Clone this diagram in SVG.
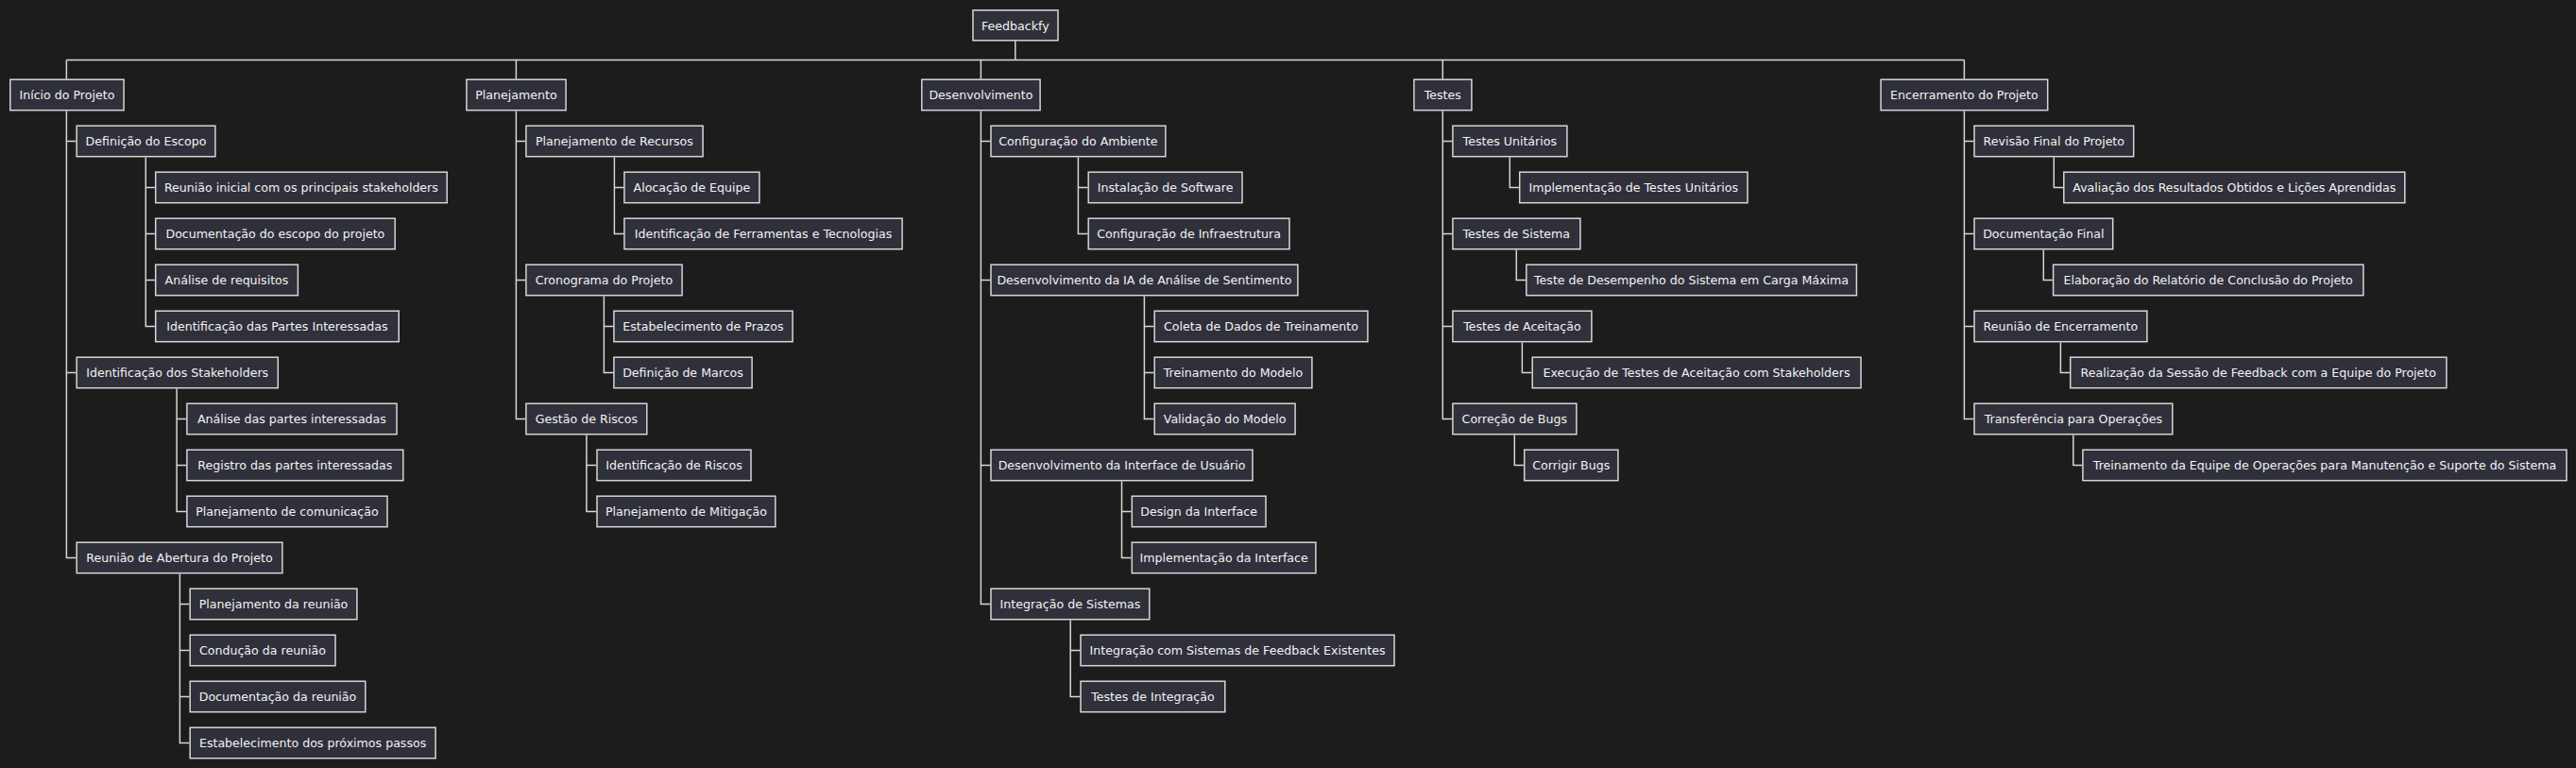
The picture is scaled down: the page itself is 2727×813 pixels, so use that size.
<svg xmlns="http://www.w3.org/2000/svg" width="2727" height="813" viewBox="0 0 2727 813">
<style>
.bg{fill:#1c1c1c}
.n rect{fill:#30303a;stroke:#d6d6d6;stroke-width:1.5}
.n text{fill:#f2f2f2;font-family:"DejaVu Sans","Liberation Sans",sans-serif;font-size:12.6px;text-anchor:middle}
.c path{fill:none;stroke:#d6d6d6;stroke-width:1.5}
</style>
<rect class="bg" x="0" y="0" width="2727" height="813"/>
<g class="c" id="connectors">
<path d="M1074.8,43.3V63.5M70.4,63.5H2079.4M70.4,63.5V83.5M546.4,63.5V83.5M1038.4,63.5V83.5M1527.3,63.5V83.5M2079.4,63.5V83.5"/>
<path d="M70.4,117.5V590.5H80.4M70.4,149.5H80.4M70.4,394.5H80.4"/>
<path d="M154.3,166.5V345.5H163.9M154.3,198.5H163.9M154.3,247.5H163.9M154.3,296.5H163.9"/>
<path d="M187.1,411.5V541.5H197.1M187.1,443.5H197.1M187.1,492.5H197.1"/>
<path d="M190.4,607.5V786.5H200.4M190.4,639.5H200.4M190.4,688.5H200.4M190.4,737.5H200.4"/>
<path d="M546.4,117.5V443.5H556.1M546.4,149.5H556.1M546.4,296.5H556.1"/>
<path d="M650.4,166.5V247.5H660.1M650.4,198.5H660.1"/>
<path d="M639.4,313.5V394.5H649.1M639.4,345.5H649.1"/>
<path d="M620.9,460.5V541.5H631.2M620.9,492.5H631.2"/>
<path d="M1038.4,117.5V639.5H1048.2M1038.4,149.5H1048.2M1038.4,296.5H1048.2M1038.4,492.5H1048.2"/>
<path d="M1141.4,166.5V247.5H1151.4M1141.4,198.5H1151.4"/>
<path d="M1211.4,313.5V443.5H1221.4M1211.4,345.5H1221.4M1211.4,394.5H1221.4"/>
<path d="M1187.5,509.5V590.5H1197.5M1187.5,541.5H1197.5"/>
<path d="M1133.2,656.5V737.5H1143.2M1133.2,688.5H1143.2"/>
<path d="M1527.3,117.5V443.5H1537.1M1527.3,149.5H1537.1M1527.3,247.5H1537.1M1527.3,345.5H1537.1"/>
<path d="M1598.3,166.5V198.5H1607.9"/>
<path d="M1605.3,264.5V296.5H1615"/>
<path d="M1611.4,362.5V394.5H1621.4"/>
<path d="M1603.3,460.5V492.5H1612.9"/>
<path d="M2079.4,117.5V443.5H2089.2M2079.4,149.5H2089.2M2079.4,247.5H2089.2M2079.4,345.5H2089.2"/>
<path d="M2174.3,166.5V198.5H2184"/>
<path d="M2163.3,264.5V296.5H2172.8"/>
<path d="M2181.4,362.5V394.5H2190.9"/>
<path d="M2194.8,460.5V492.5H2204.1"/>
</g>
<g class="n" id="n-root"><rect x="1030" y="10.8" width="90" height="32"/><text x="1074.8" y="31.5">Feedbackfy</text></g>

<g class="n" id="n-inicio"><rect x="10.8" y="84.2" width="120.3" height="32.5"/><text x="70.9" y="105">Início do Projeto</text></g>
<g class="n" id="n-definicao"><rect x="81.2" y="133.2" width="146.7" height="32.5"/><text x="154.5" y="154">Definição do Escopo</text></g>
<g class="n" id="n-reuniao-inicial"><rect x="164.7" y="182.2" width="308.5" height="32.5"/><text x="318.9" y="203">Reunião inicial com os principais stakeholders</text></g>
<g class="n" id="n-doc-escopo"><rect x="164.7" y="231.2" width="253.5" height="32.5"/><text x="291.4" y="252">Documentação do escopo do projeto</text></g>
<g class="n" id="n-analise-req"><rect x="164.7" y="280.2" width="150.7" height="32.5"/><text x="240" y="301">Análise de requisitos</text></g>
<g class="n" id="n-ident-partes"><rect x="164.7" y="329.2" width="257.5" height="32.5"/><text x="293.4" y="350">Identificação das Partes Interessadas</text></g>
<g class="n" id="n-ident-stake"><rect x="81.2" y="378.2" width="213.1" height="32.5"/><text x="187.7" y="399">Identificação dos Stakeholders</text></g>
<g class="n" id="n-analise-partes"><rect x="197.9" y="427.2" width="222.1" height="32.5"/><text x="308.9" y="448">Análise das partes interessadas</text></g>
<g class="n" id="n-registro"><rect x="197.9" y="476.2" width="228.9" height="32.5"/><text x="312.3" y="497">Registro das partes interessadas</text></g>
<g class="n" id="n-plan-com"><rect x="197.9" y="525.2" width="212.1" height="32.5"/><text x="303.9" y="546">Planejamento de comunicação</text></g>
<g class="n" id="n-reuniao-abertura"><rect x="81.2" y="574.2" width="217.7" height="32.5"/><text x="190" y="595">Reunião de Abertura do Projeto</text></g>
<g class="n" id="n-plan-reuniao"><rect x="201.2" y="623.2" width="176.7" height="32.5"/><text x="289.5" y="644">Planejamento da reunião</text></g>
<g class="n" id="n-conducao"><rect x="201.2" y="672.2" width="153.8" height="32.5"/><text x="278" y="693">Condução da reunião</text></g>
<g class="n" id="n-doc-reuniao"><rect x="201.2" y="721.2" width="185.6" height="32.5"/><text x="294" y="742">Documentação da reunião</text></g>
<g class="n" id="n-estab-passos"><rect x="201.2" y="770.2" width="259.9" height="32.5"/><text x="331.1" y="791">Estabelecimento dos próximos passos</text></g>

<g class="n" id="n-planejamento"><rect x="493.9" y="84.2" width="105.2" height="32.5"/><text x="546.4" y="105">Planejamento</text></g>
<g class="n" id="n-plan-recursos"><rect x="556.9" y="133.2" width="187.2" height="32.5"/><text x="650.4" y="154">Planejamento de Recursos</text></g>
<g class="n" id="n-alocacao"><rect x="660.9" y="182.2" width="143" height="32.5"/><text x="732.4" y="203">Alocação de Equipe</text></g>
<g class="n" id="n-ferramentas"><rect x="660.9" y="231.2" width="294.2" height="32.5"/><text x="808" y="252">Identificação de Ferramentas e Tecnologias</text></g>
<g class="n" id="n-cronograma"><rect x="556.9" y="280.2" width="165.2" height="32.5"/><text x="639.4" y="301">Cronograma do Projeto</text></g>
<g class="n" id="n-prazos"><rect x="649.9" y="329.2" width="189.2" height="32.5"/><text x="744.4" y="350">Estabelecimento de Prazos</text></g>
<g class="n" id="n-marcos"><rect x="649.9" y="378.2" width="146.2" height="32.5"/><text x="723" y="399">Definição de Marcos</text></g>
<g class="n" id="n-gestao-riscos"><rect x="556.9" y="427.2" width="127.9" height="32.5"/><text x="620.9" y="448">Gestão de Riscos</text></g>
<g class="n" id="n-ident-riscos"><rect x="632" y="476.2" width="163" height="32.5"/><text x="713.5" y="497">Identificação de Riscos</text></g>
<g class="n" id="n-mitigacao"><rect x="632" y="525.2" width="188.8" height="32.5"/><text x="726.4" y="546">Planejamento de Mitigação</text></g>

<g class="n" id="n-desenvolvimento"><rect x="975.8" y="84.2" width="125.3" height="32.5"/><text x="1038.4" y="105">Desenvolvimento</text></g>
<g class="n" id="n-config-amb"><rect x="1049" y="133.2" width="184.9" height="32.5"/><text x="1141.4" y="154">Configuração do Ambiente</text></g>
<g class="n" id="n-instalacao"><rect x="1152.2" y="182.2" width="162.8" height="32.5"/><text x="1233.6" y="203">Instalação de Software</text></g>
<g class="n" id="n-config-infra"><rect x="1152.2" y="231.2" width="212.8" height="32.5"/><text x="1258.6" y="252">Configuração de Infraestrutura</text></g>
<g class="n" id="n-desenv-ia"><rect x="1049" y="280.2" width="324.9" height="32.5"/><text x="1211.4" y="301">Desenvolvimento da IA de Análise de Sentimento</text></g>
<g class="n" id="n-coleta"><rect x="1222.2" y="329.2" width="225.7" height="32.5"/><text x="1335" y="350">Coleta de Dados de Treinamento</text></g>
<g class="n" id="n-treinamento-modelo"><rect x="1222.2" y="378.2" width="166.7" height="32.5"/><text x="1305.5" y="399">Treinamento do Modelo</text></g>
<g class="n" id="n-validacao"><rect x="1222.2" y="427.2" width="148.9" height="32.5"/><text x="1296.6" y="448">Validação do Modelo</text></g>
<g class="n" id="n-desenv-interface"><rect x="1049" y="476.2" width="277" height="32.5"/><text x="1187.5" y="497">Desenvolvimento da Interface de Usuário</text></g>
<g class="n" id="n-design"><rect x="1198.3" y="525.2" width="141.7" height="32.5"/><text x="1269.1" y="546">Design da Interface</text></g>
<g class="n" id="n-impl-interface"><rect x="1198.3" y="574.2" width="194.6" height="32.5"/><text x="1295.6" y="595">Implementação da Interface</text></g>
<g class="n" id="n-integracao"><rect x="1049" y="623.2" width="167.8" height="32.5"/><text x="1132.9" y="644">Integração de Sistemas</text></g>
<g class="n" id="n-integracao-com"><rect x="1144" y="672.2" width="332" height="32.5"/><text x="1310" y="693">Integração com Sistemas de Feedback Existentes</text></g>
<g class="n" id="n-testes-integracao"><rect x="1144" y="721.2" width="152.8" height="32.5"/><text x="1220.4" y="742">Testes de Integração</text></g>

<g class="n" id="n-testes"><rect x="1496.9" y="84.2" width="61" height="32.5"/><text x="1527.3" y="105">Testes</text></g>
<g class="n" id="n-tu"><rect x="1537.9" y="133.2" width="121" height="32.5"/><text x="1598.3" y="154">Testes Unitários</text></g>
<g class="n" id="n-impl-tu"><rect x="1608.7" y="182.2" width="241.3" height="32.5"/><text x="1729.3" y="203">Implementação de Testes Unitários</text></g>
<g class="n" id="n-ts"><rect x="1537.9" y="231.2" width="135" height="32.5"/><text x="1605.3" y="252">Testes de Sistema</text></g>
<g class="n" id="n-desempenho"><rect x="1615.8" y="280.2" width="349.6" height="32.5"/><text x="1790.5" y="301">Teste de Desempenho do Sistema em Carga Máxima</text></g>
<g class="n" id="n-ta"><rect x="1537.9" y="329.2" width="147" height="32.5"/><text x="1611.4" y="350">Testes de Aceitação</text></g>
<g class="n" id="n-exec-ta"><rect x="1622.2" y="378.2" width="347.8" height="32.5"/><text x="1796" y="399">Execução de Testes de Aceitação com Stakeholders</text></g>
<g class="n" id="n-cb"><rect x="1537.9" y="427.2" width="131" height="32.5"/><text x="1603.3" y="448">Correção de Bugs</text></g>
<g class="n" id="n-corrigir"><rect x="1613.7" y="476.2" width="99.2" height="32.5"/><text x="1663.3" y="497">Corrigir Bugs</text></g>

<g class="n" id="n-encerramento"><rect x="1991.1" y="84.2" width="176.6" height="32.5"/><text x="2079.4" y="105">Encerramento do Projeto</text></g>
<g class="n" id="n-revisao"><rect x="2090" y="133.2" width="168.7" height="32.5"/><text x="2174.3" y="154">Revisão Final do Projeto</text></g>
<g class="n" id="n-avaliacao"><rect x="2184.8" y="182.2" width="361" height="32.5"/><text x="2365.3" y="203">Avaliação dos Resultados Obtidos e Lições Aprendidas</text></g>
<g class="n" id="n-doc-final"><rect x="2090" y="231.2" width="146.7" height="32.5"/><text x="2163.3" y="252">Documentação Final</text></g>
<g class="n" id="n-elaboracao"><rect x="2173.6" y="280.2" width="328.3" height="32.5"/><text x="2337.7" y="301">Elaboração do Relatório de Conclusão do Projeto</text></g>
<g class="n" id="n-reuniao-enc"><rect x="2090" y="329.2" width="182.9" height="32.5"/><text x="2181.4" y="350">Reunião de Encerramento</text></g>
<g class="n" id="n-realizacao"><rect x="2191.7" y="378.2" width="398.2" height="32.5"/><text x="2390.8" y="399">Realização da Sessão de Feedback com a Equipe do Projeto</text></g>
<g class="n" id="n-transferencia"><rect x="2090" y="427.2" width="209.8" height="32.5"/><text x="2194.8" y="448">Transferência para Operações</text></g>
<g class="n" id="n-treinamento-equipe"><rect x="2204.9" y="476.2" width="512.1" height="32.5"/><text x="2461" y="497">Treinamento da Equipe de Operações para Manutenção e Suporte do Sistema</text></g>
</svg>
